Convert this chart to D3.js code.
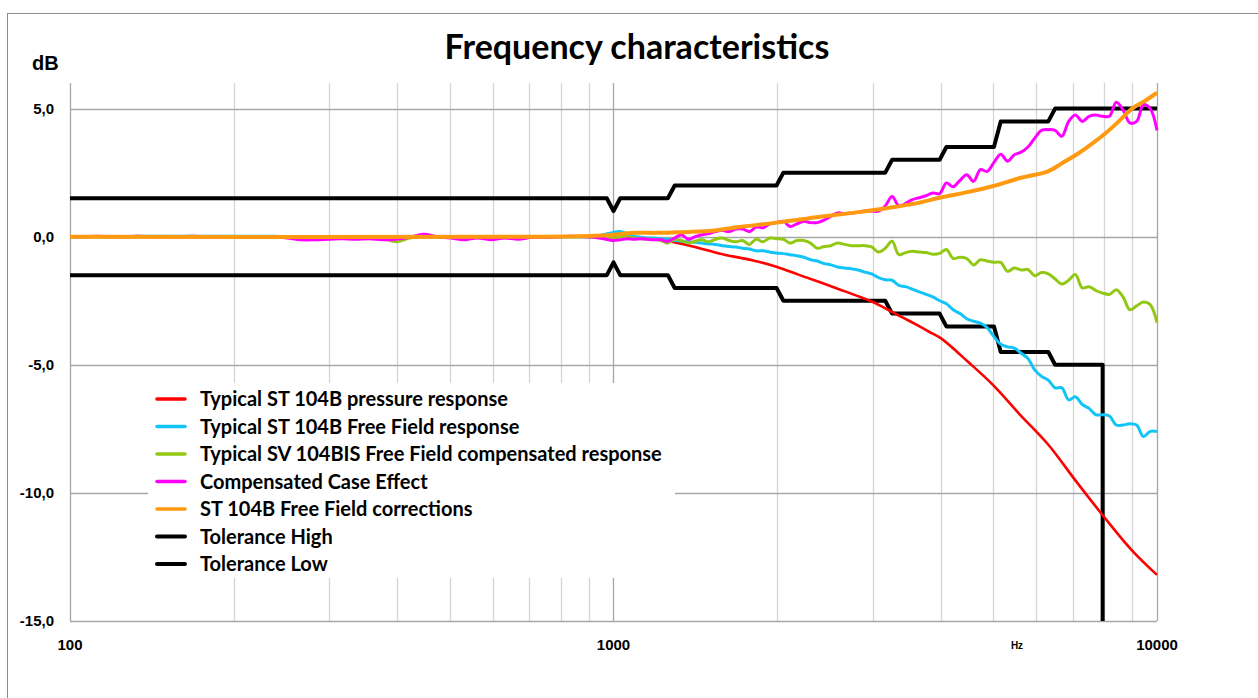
<!DOCTYPE html>
<html>
<head>
<meta charset="utf-8">
<script src="https://cdn.jsdelivr.net/npm/d3@7"></script>
<style>
  html, body { margin: 0; padding: 0; background: #fff; }
  svg { display: block; }
</style>
</head>
<body>
<svg id="chart" width="1258" height="698"></svg>
<script>
// ---------- DATA ----------
const chartTitle = "Frequency characteristics";
const yTicks = [5, 0, -5, -10, -15];
const yTickLabels = ["5,0", "0,0", "-5,0", "-10,0", "-15,0"];
const xTicks = [100, 1000, 10000];
const xTickLabels = ["100", "1000", "10000"];
const xGridFreqs = [200,300,400,500,600,700,800,900,1000,2000,3000,4000,5000,6000,7000,8000,9000,10000];

// shared fine frequency grid for the measured (wiggly) curves
const fineFreq = [
  100,106,112,119,126,133,141,150,158,168,178,188,200,211,224,237,251,266,282,299,
  316,335,355,376,398,422,447,473,501,531,562,596,631,668,708,750,794,841,891,944,
  1000,1029,1059,1090,1122,1155,1189,1223,1259,1296,1334,1373,1413,1454,1496,1540,1585,1631,1679,1728,
  1778,1830,1884,1939,1995,2054,2113,2175,2239,2304,2371,2441,2512,2585,2661,2738,2818,2901,2985,3073,
  3162,3255,3350,3447,3548,3652,3758,3868,3981,4097,4217,4340,4467,4597,4732,4870,5012,5158,5309,5464,
  5623,5788,5957,6131,6310,6494,6683,6879,7079,7286,7499,7718,7943,8175,8414,8660,8913,9173,9441,9716,10000
];

const freeFieldDb = [
  0,0,0,0,0,0.02,0.02,0.02,0.02,0.02,0.02,0.02,0.02,0.02,0.02,0.02,0,0,0,0,
  0,0,0,0,0,0,0,0,0,0,0,0,0,0,0,0,0,0,0,0.05,
  0.17,0.2,0.12,0.02,-0.02,-0.05,-0.05,-0.08,-0.1,-0.15,
  -0.18,-0.2,-0.22,-0.25,-0.28,-0.3,-0.35,-0.38,-0.4,-0.45,
  -0.48,-0.55,-0.55,-0.6,-0.64,-0.66,-0.7,-0.74,-0.8,-0.9,
  -0.95,-1.05,-1.1,-1.18,-1.22,-1.25,-1.3,-1.38,-1.45,-1.6,
  -1.68,-1.7,-1.9,-1.95,-2.05,-2.15,-2.25,-2.35,-2.5,-2.62,
  -2.85,-3.0,-3.2,-3.3,-3.37,-3.55,-3.9,-4.2,-4.3,-4.35,
  -4.55,-4.75,-5.2,-5.45,-5.6,-5.9,-5.9,-6.37,-6.25,-6.55,
  -6.7,-6.95,-6.95,-7.0,-7.35,-7.35,-7.3,-7.35,-7.8,-7.6,
  -7.6
];

const compensatedDb = [
  0,0,0,0,0,0,0,0,0,0,0,0,0,0,0,0,0,0,0,0,
  0,0,0,-0.05,-0.2,-0.05,0,0,-0.03,0,-0.03,0,-0.03,0,0,0,0,0,0,-0.05,
  -0.05,0,0,-0.05,-0.08,-0.1,-0.1,-0.15,-0.25,-0.1,
  -0.15,-0.25,-0.18,-0.12,-0.2,-0.1,-0.05,-0.15,-0.2,-0.15,
  -0.3,-0.1,-0.2,-0.05,-0.08,-0.1,-0.25,-0.15,-0.15,-0.25,
  -0.45,-0.38,-0.35,-0.25,-0.3,-0.35,-0.35,-0.35,-0.4,-0.6,
  -0.45,-0.18,-0.7,-0.62,-0.57,-0.6,-0.62,-0.68,-0.65,-0.5,
  -0.85,-0.8,-0.85,-1.1,-0.9,-0.95,-1.0,-1.0,-1.35,-1.22,
  -1.3,-1.28,-1.52,-1.4,-1.45,-1.65,-1.85,-1.7,-1.48,-2.0,
  -1.95,-2.1,-2.2,-2.25,-2.07,-2.35,-2.85,-2.7,-2.55,-2.65,
  -3.35
];

const caseEffectDb = [
  0,0,0.02,0,0,0.02,0,0,0,0.02,0,0,0,0,0,0,-0.05,-0.12,-0.12,-0.1,
  -0.08,-0.1,-0.08,-0.12,-0.1,-0.02,0.1,0,-0.05,-0.12,-0.05,-0.12,-0.05,-0.1,-0.02,-0.02,0,0.02,0,-0.05,
  -0.15,-0.12,-0.08,-0.1,-0.08,-0.1,-0.12,-0.12,-0.18,-0.05,
  0.08,-0.1,0,0.08,0.12,0.2,0.25,0.2,0.3,0.3,
  0.2,0.38,0.35,0.5,0.55,0.6,0.4,0.5,0.6,0.55,
  0.55,0.65,0.8,0.93,0.9,0.92,0.95,1.0,1.0,1.0,
  1.2,1.57,1.2,1.3,1.45,1.52,1.6,1.71,1.68,2.1,
  1.95,2.2,2.42,2.16,2.62,2.55,2.9,3.22,2.95,3.2,
  3.3,3.5,3.85,4.15,4.18,4.15,3.92,4.5,4.75,4.5,
  4.7,4.75,4.7,4.7,5.25,4.95,4.44,4.5,5.15,5.0,
  4.15
];

const pressureFreq = [100,500,800,1000,1100,1200,1300,1400,1500,1600,1800,2000,2200,2400,2600,2800,3000,3200,3400,3600,3800,4000,4500,5000,5600,6300,7100,8000,9000,10000];
const pressureDb   = [0,0,0.02,0,-0.02,-0.1,-0.22,-0.38,-0.55,-0.7,-0.92,-1.18,-1.5,-1.78,-2.05,-2.3,-2.55,-2.85,-3.15,-3.42,-3.7,-3.96,-4.9,-5.8,-6.95,-8.1,-9.55,-10.95,-12.25,-13.2];

const correctionFreq = [100,700,900,1000,1100,1200,1300,1500,1700,2000,2400,2800,3200,3600,4000,4500,5000,5600,6300,6700,7100,7500,8000,8500,9000,9500,10000];
const correctionDb   = [0,0,0.03,0.08,0.15,0.15,0.17,0.22,0.38,0.55,0.78,0.95,1.12,1.3,1.53,1.75,1.98,2.29,2.55,2.88,3.2,3.55,4.0,4.5,5.0,5.3,5.62];

const tolHighFreq = [100,972,1000,1029,1259,1296,1995,2054,3162,3255,3981,4097,5012,5158,6310,6494,10000];
const tolHighDb   = [1.5,1.5,1.0,1.5,1.5,2.0,2.0,2.5,2.5,3.0,3.0,3.5,3.5,4.5,4.5,5.0,5.0];
const tolLowFreq  = [100,972,1000,1029,1259,1296,1995,2054,3162,3255,3981,4097,5012,5158,6310,6494,7943,7943];
const tolLowDb    = [-1.5,-1.5,-1.0,-1.5,-1.5,-2.0,-2.0,-2.5,-2.5,-3.0,-3.0,-3.5,-3.5,-4.5,-4.5,-5.0,-5.0,-15];

const seriesNames = [
  "Typical ST 104B pressure response",
  "Typical ST 104B Free Field response",
  "Typical SV 104BIS Free Field compensated response",
  "Compensated Case Effect",
  "ST 104B Free Field corrections",
  "Tolerance High",
  "Tolerance Low"
];
const seriesColors = ["#ff0000", "#12c4f8", "#92c814", "#ff00ff", "#ff9a10", "#000000", "#000000"];

// ---------- CHART ----------
const svg = d3.select("#chart");
const x = d3.scaleLog().domain([100, 10000]).range([70, 1157]);
const y = d3.scaleLinear().domain([-15, 6]).range([621, 83]);

// outer border
svg.append("rect").attr("x", 7.5).attr("y", 13.5).attr("width", 1262).attr("height", 700)
  .attr("fill", "none").attr("stroke", "#8c8c8c").attr("stroke-width", 1);

// vertical grid
svg.append("g").selectAll("line").data(xGridFreqs).join("line")
  .attr("x1", d => Math.round(x(d)) + 0.5).attr("x2", d => Math.round(x(d)) + 0.5)
  .attr("y1", y(6)).attr("y2", y(-15))
  .attr("stroke", d => (d === 1000 || d === 10000) ? "#a6a6a6" : "#d4d4d4")
  .attr("stroke-width", 1.3);

// horizontal grid
svg.append("g").selectAll("line").data(yTicks).join("line")
  .attr("x1", 70).attr("x2", 1157)
  .attr("y1", d => Math.round(y(d)) + 0.5).attr("y2", d => Math.round(y(d)) + 0.5)
  .attr("stroke", "#a6a6a6").attr("stroke-width", 1.3);

// y axis line
svg.append("line").attr("x1", 70.5).attr("x2", 70.5).attr("y1", y(6)).attr("y2", y(-15))
  .attr("stroke", "#a6a6a6").attr("stroke-width", 1.3);

// legend background over the grid
const legendBox = { x: 148, y: 383, w: 527, h: 195 };
svg.append("rect").attr("x", legendBox.x).attr("y", legendBox.y)
  .attr("width", legendBox.w).attr("height", legendBox.h).attr("fill", "#fff");

// y tick labels
svg.append("g").selectAll("text").data(yTicks).join("text")
  .attr("x", 54).attr("y", d => y(d)).attr("dy", "0.36em")
  .attr("text-anchor", "end")
  .attr("font-family", "'Liberation Sans', Arial, sans-serif").attr("font-weight", "bold")
  .attr("font-size", 15).attr("fill", "#000")
  .text((d, i) => yTickLabels[i]);

// x tick labels
svg.append("g").selectAll("text").data(xTicks).join("text")
  .attr("x", d => x(d)).attr("y", 645).attr("dy", "0.36em")
  .attr("text-anchor", "middle")
  .attr("font-family", "'Liberation Sans', Arial, sans-serif").attr("font-weight", "bold")
  .attr("font-size", 15).attr("fill", "#000")
  .text((d, i) => xTickLabels[i]);

svg.append("text").attr("x", 1017).attr("y", 645).attr("dy", "0.36em")
  .attr("text-anchor", "middle")
  .attr("font-family", "'Liberation Sans', Arial, sans-serif").attr("font-weight", "bold")
  .attr("font-size", 10).attr("fill", "#000").text("Hz");

svg.append("text").attr("x", 32).attr("y", 70)
  .attr("font-family", "'Liberation Sans', Arial, sans-serif").attr("font-weight", "bold")
  .attr("font-size", 20).attr("fill", "#000").text("dB");

svg.append("text").attr("x", 637).attr("y", 59).attr("text-anchor", "middle")
  .attr("font-family", "Lato, 'Open Sans', sans-serif").attr("font-weight", "bold")
  .attr("font-size", 34).attr("fill", "#000").text(chartTitle);

// lines
svg.append("clipPath").attr("id", "plotclip").append("rect")
  .attr("x", 68).attr("y", 60).attr("width", 1092).attr("height", y(-15) - 60);

const lineLinear = d3.line().x(d => x(d[0])).y(d => y(d[1]));
const lineSmooth = d3.line().x(d => x(d[0])).y(d => y(d[1])).curve(d3.curveCatmullRom.alpha(0.5));
const zip = (f, v) => f.map((ff, i) => [ff, v[i]]);

const plot = svg.append("g").attr("clip-path", "url(#plotclip)");

const series = [
  { data: zip(tolHighFreq, tolHighDb), gen: lineLinear, color: seriesColors[5], w: 4 },
  { data: zip(tolLowFreq, tolLowDb), gen: lineLinear, color: seriesColors[6], w: 4 },
  { data: zip(pressureFreq, pressureDb), gen: lineSmooth, color: seriesColors[0], w: 2.6 },
  { data: zip(fineFreq, freeFieldDb), gen: lineSmooth, color: seriesColors[1], w: 3 },
  { data: zip(fineFreq, compensatedDb), gen: lineSmooth, color: seriesColors[2], w: 3 },
  { data: zip(fineFreq, caseEffectDb), gen: lineSmooth, color: seriesColors[3], w: 3 },
  { data: zip(correctionFreq, correctionDb), gen: lineSmooth, color: seriesColors[4], w: 4 }
];
series.forEach(s => {
  plot.append("path").attr("d", s.gen(s.data)).attr("fill", "none")
    .attr("stroke", s.color).attr("stroke-width", s.w)
    .attr("stroke-linejoin", "round").attr("stroke-linecap", "butt");
});

// legend
const legendY0 = 399, legendStep = 27.5;
const lg = svg.append("g");
seriesNames.forEach((name, i) => {
  const yy = legendY0 + i * legendStep;
  lg.append("line").attr("x1", 157).attr("x2", 185).attr("y1", yy).attr("y2", yy)
    .attr("stroke", seriesColors[i]).attr("stroke-width", i >= 5 ? 4 : 3.5)
    .attr("stroke-linecap", "round");
  lg.append("text").attr("x", 200).attr("y", yy).attr("dy", "0.35em")
    .attr("font-family", "Lato, 'Open Sans', sans-serif").attr("font-weight", "bold")
    .attr("font-size", 20).attr("fill", "#000").text(name);
});
</script>
</body>
</html>
